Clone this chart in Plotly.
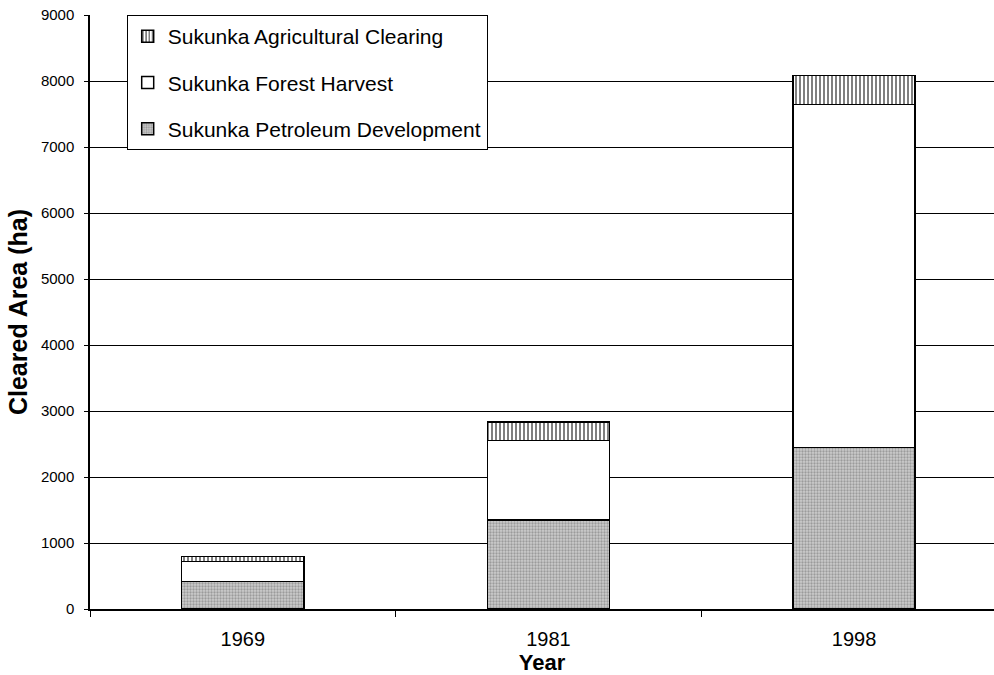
import plotly.graph_objects as go

years = ["1969", "1981", "1998"]
petroleum = [415, 1350, 2450]
forest = [305, 1205, 5195]
agricultural = [75, 275, 435]
y_ticks = [0, 1000, 2000, 3000, 4000, 5000, 6000, 7000, 8000, 9000]

FONT = "Liberation Sans, Arial, sans-serif"

fig = go.Figure()
fig.add_trace(go.Bar(
    x=years, y=petroleum, name="Sukunka Petroleum Development",
    legendgroup="p", legendrank=3,
    marker=dict(color="#bcbcbc", line=dict(color="black", width=1.5),
                pattern=dict(shape=".", fgcolor="#6a6a6a", bgcolor="#cccccc",
                             size=3, solidity=0.45)),
    width=0.40,
))
fig.add_trace(go.Bar(
    x=years, y=forest, name="Sukunka Forest Harvest",
    legendgroup="f", legendrank=2,
    marker=dict(color="white", line=dict(color="black", width=1.5)),
    width=0.40,
))
fig.add_trace(go.Bar(
    x=years, y=agricultural, name="Sukunka Agricultural Clearing",
    legendgroup="a", legendrank=1,
    marker=dict(color="white", line=dict(color="black", width=1.5),
                pattern=dict(shape="|", fgcolor="black", bgcolor="white",
                             size=4, solidity=0.5)),
    width=0.40,
))

fig.update_layout(
    width=994, height=675,
    margin=dict(l=90, r=0, t=15, b=66),
    barmode="stack",
    plot_bgcolor="white", paper_bgcolor="white",
    font=dict(family=FONT, color="black"),
    showlegend=True,
    legend=dict(
        x=0.0406, y=1, xanchor="left", yanchor="top",
        bgcolor="white", bordercolor="black", borderwidth=1,
        font=dict(size=21, family=FONT, color="black"),
        traceorder="grouped", tracegroupgap=16,
        itemwidth=30,
    ),
    xaxis=dict(
        type="category", range=[-0.5, 2.458],
        automargin=False,
        showline=True, linecolor="black", linewidth=1.5,
        ticks="outside", tickson="boundaries", ticklen=6, tickcolor="black",
        tickfont=dict(size=20, family=FONT),
        ticklabelstandoff=11,
        title=dict(text="<b>Year</b>", font=dict(size=22, family=FONT), standoff=1),
        showgrid=False,
    ),
    yaxis=dict(
        range=[0, 9000], tickvals=y_ticks,
        automargin=False,
        showline=True, linecolor="black", linewidth=1.5,
        ticks="outside", ticklen=4, tickcolor="black",
        tickfont=dict(size=15, family=FONT),
        ticklabelstandoff=7,
        showgrid=True, gridcolor="black", gridwidth=1,
        zeroline=False,
        title=dict(text="<b>Cleared Area (ha)</b>", font=dict(size=25, family=FONT), standoff=6),
    ),
)

fig.write_html(
    "out.html",
    config={"displayModeBar": False},
    post_script="document.body.style.margin='0';document.body.style.overflow='hidden';",
)
